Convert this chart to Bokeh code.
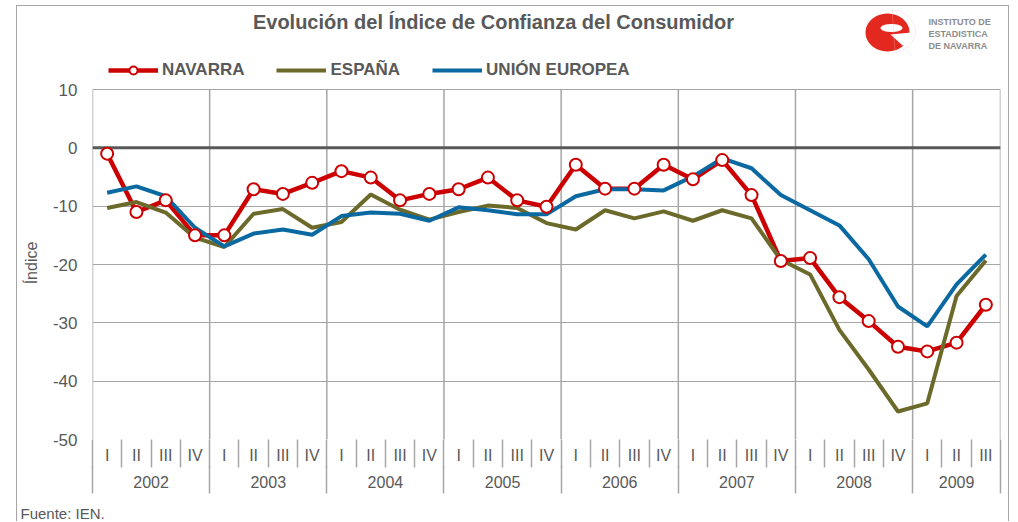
import math
from bokeh.plotting import figure
from bokeh.models import (Range1d, LinearAxis, FixedTicker, Span, Label, Legend, LegendItem,
                          CustomJSTickFormatter, ColumnDataSource, Title, PolyAnnotation)
from bokeh.embed import file_html
from bokeh.resources import INLINE

# ---------------- data ----------------
years = ["2002", "2003", "2004", "2005", "2006", "2007", "2008", "2009"]
quarter_names = ["I", "II", "III", "IV"]
quarters = [q for y in years for q in quarter_names][:31]   # 2002 I .. 2009 III

navarra = [-1.0, -11.0, -9.0, -15.0, -15.0, -7.1, -7.9, -6.0, -4.0, -5.1, -9.0, -7.9,
           -7.1, -5.1, -9.0, -10.1, -2.9, -7.0, -7.0, -2.9, -5.4, -2.1, -8.1, -19.4,
           -18.9, -25.6, -29.7, -34.1, -34.9, -33.4, -26.9]
espana = [-10.3, -9.3, -11.1, -15.4, -17.0, -11.3, -10.5, -13.7, -12.7, -8.0, -10.6, -12.3,
          -11.0, -9.9, -10.3, -12.9, -14.0, -10.7, -12.1, -10.9, -12.5, -10.7, -12.1, -19.2,
          -21.7, -31.2, -38.0, -45.2, -43.8, -25.4, -19.3]
ue = [-7.7, -6.6, -8.3, -13.7, -16.9, -14.7, -14.0, -14.9, -11.7, -11.1, -11.3, -12.5,
      -10.2, -10.7, -11.4, -11.4, -8.3, -7.1, -7.1, -7.3, -4.9, -1.8, -3.5, -8.1,
      -10.7, -13.3, -19.1, -27.2, -30.6, -23.4, -18.3]
y_ticks = [-50, -40, -30, -20, -10, 0, 10]

n = len(quarters)
x = [i + 0.5 for i in range(n)]
src = ColumnDataSource(dict(x=x, navarra=navarra, espana=espana, ue=ue))

FONT = "Liberation Sans"
TXT = "#595959"
GRID = "#a6a6a6"
RED = "#cc0000"
OLIVE = "#6b6a2b"
BLUE = "#0b69a1"
LOGO_RED = "#e3281f"

# layout geometry (pixels)
CANVAS_TOP = 6          # page y of canvas top (margin 5 + 1px border)
PLOT_LEFT = 92          # page x of the plot area's left edge
PLOT_TOP = 89           # page y of the value-10 line
PLOT_BOTTOM = 439       # page y of the value -50 line
H = 516
y_lo, y_hi = y_ticks[0], y_ticks[-1]
frame_top_value = y_lo + (y_hi - y_lo) * (PLOT_BOTTOM - CANVAS_TOP) / (PLOT_BOTTOM - PLOT_TOP)

p = figure(width=993, height=H, x_range=Range1d(0, n), y_range=Range1d(y_lo, frame_top_value),
           output_backend="svg", toolbar_location=None, x_axis_type=None,
           min_border_left=75, min_border_right=10, min_border_top=0,
           min_border_bottom=H - (PLOT_BOTTOM - CANVAS_TOP))
p.margin = (5, 0, 0, 16)
p.styles = {"border-top": "1px solid #a6a6a6", "border-left": "1px solid #a6a6a6",
            "border-right": "1px solid #a6a6a6"}
p.outline_line_color = None
p.background_fill_color = "white"
p.border_fill_color = "white"

# y axis
ya = p.yaxis[0]
ya.ticker = FixedTicker(ticks=y_ticks)
ya.formatter = CustomJSTickFormatter(code="return tick.toFixed(0)")
ya.axis_line_color = None
ya.major_tick_line_color = None
ya.minor_tick_line_color = None
ya.major_tick_out = 0
ya.minor_tick_out = 0
ya.major_label_text_font = FONT
ya.major_label_text_font_size = "17px"
ya.major_label_text_color = TXT
ya.major_label_standoff = 15
# non-breaking spaces keep the rotated label centred on the value area, not the whole frame
ya.axis_label = "Índice" + "\u00a0" * 18
ya.axis_label_text_font = FONT
ya.axis_label_text_font_size = "16px"
ya.axis_label_text_font_style = "normal"
ya.axis_label_text_color = TXT
ya.axis_label_standoff = 10

p.ygrid.ticker = FixedTicker(ticks=y_ticks)
p.ygrid.grid_line_color = GRID
p.ygrid.grid_line_width = 1.2

# vertical year separators limited to the value area
year_bounds = [4 * i for i in range(len(years))] + [n]
p.segment(x0=year_bounds, x1=year_bounds, y0=[y_lo] * len(year_bounds), y1=[y_hi] * len(year_bounds),
          line_color=GRID, line_width=1.5, level="underlay")

p.add_layout(Span(location=0, dimension="width", line_color="#595959", line_width=3,
                  level="underlay"))

# quarter axis
qa = LinearAxis(ticker=FixedTicker(ticks=x, minor_ticks=list(range(n + 1))),
                formatter=CustomJSTickFormatter(args=dict(labels=quarters),
                                                code="return labels[Math.floor(tick)] || ''"))
qa.axis_line_color = None
qa.major_tick_line_color = None
qa.major_tick_out = 0
qa.major_tick_in = 0
qa.minor_tick_in = 0
qa.minor_tick_out = 28
qa.minor_tick_line_color = GRID
qa.minor_tick_line_width = 1.5
qa.major_label_standoff = -21
qa.major_label_text_font = FONT
qa.major_label_text_font_size = "16px"
qa.major_label_text_color = TXT
p.add_layout(qa, "below")

# year axis
year_centers = [(4 * i + min(4 * i + 4, n)) / 2 for i in range(len(years))]
yra = LinearAxis(ticker=FixedTicker(ticks=year_centers, minor_ticks=year_bounds),
                 formatter=CustomJSTickFormatter(args=dict(labels=years),
                                                 code="return labels[Math.floor(tick/4)] || ''"))
yra.axis_line_color = None
yra.major_tick_line_color = None
yra.major_tick_out = 0
yra.major_tick_in = 0
yra.minor_tick_in = 0
yra.minor_tick_out = 27
yra.minor_tick_line_color = GRID
yra.minor_tick_line_width = 1.5
yra.major_label_standoff = -18
yra.major_label_text_font = FONT
yra.major_label_text_font_size = "16px"
yra.major_label_text_color = TXT
yra.axis_label = "\u00a0"          # blank spacer row below the years
yra.axis_label_text_font_size = "8px"
yra.axis_label_standoff = 0
p.add_layout(yra, "below")

p.add_layout(Title(text="Fuente: IEN.", align="left", offset=-(PLOT_LEFT - 20), standoff=0,
                   text_font=FONT, text_font_size="15px", text_font_style="normal",
                   text_color=TXT), "below")

# series
l_nav = p.line("x", "navarra", source=src, line_color=RED, line_width=4.5)
l_esp = p.line("x", "espana", source=src, line_color=OLIVE, line_width=4)
l_ue = p.line("x", "ue", source=src, line_color=BLUE, line_width=4)
m_nav = p.scatter("x", "navarra", source=src, size=12, marker="circle",
                  fill_color="white", line_color=RED, line_width=2)

legend = Legend(items=[LegendItem(label="NAVARRA", renderers=[l_nav, m_nav]),
                       LegendItem(label="ESPAÑA", renderers=[l_esp]),
                       LegendItem(label="UNIÓN EUROPEA", renderers=[l_ue])],
                location=(16, PLOT_BOTTOM - 80), orientation="horizontal",
                padding=0, margin=0, border_line_color=None, background_fill_alpha=0,
                glyph_width=50, glyph_height=20, label_height=20, label_standoff=4, spacing=32,
                label_text_font=FONT, label_text_font_size="17px", label_text_font_style="bold",
                label_text_color=TXT)
p.add_layout(legend, "center")

# title (screen units relative to plot frame, y up from its bottom)
p.add_layout(Label(x=401, y=PLOT_BOTTOM - 21, x_units="screen", y_units="screen",
                   text="Evolución del Índice de Confianza del Consumidor",
                   text_font=FONT, text_font_size="20px", text_font_style="bold",
                   text_color=TXT, text_align="center", text_baseline="middle"))

# logo: stylised red "e" drawn as shapes, plus institute name
def to_frame(px, py):
    return px - PLOT_LEFT, PLOT_BOTTOM - py

def ellipse_poly(cx, cy, rx, ry, a0=0.0, a1=2 * math.pi, k=48):
    pts = [to_frame(cx + rx * math.cos(a0 + (a1 - a0) * i / k),
                    cy + ry * math.sin(a0 + (a1 - a0) * i / k)) for i in range(k + 1)]
    return [pt[0] for pt in pts], [pt[1] for pt in pts]

def poly(points):
    pts = [to_frame(a, b) for a, b in points]
    return [pt[0] for pt in pts], [pt[1] for pt in pts]

for (xs_, ys_), col in [(ellipse_poly(887, 32, 22, 19), LOGO_RED),
                        (ellipse_poly(891, 27.5, 11, 4), "white"),
                        (poly([(890, 34), (911, 32), (911, 45), (902, 45)]), "white")]:
    p.add_layout(PolyAnnotation(xs=xs_, ys=ys_, xs_units="screen", ys_units="screen",
                                fill_color=col, fill_alpha=1, line_color=None))
axs, ays = ellipse_poly(887, 31, 28, 22, -1.4, 1.3, 24)
p.add_layout(PolyAnnotation(xs=axs, ys=ays, xs_units="screen", ys_units="screen",
                            fill_alpha=0, line_color="#f2b8b5", line_width=1))

for i, t in enumerate(["INSTITUTO DE", "ESTADISTICA", "DE NAVARRA"]):
    p.add_layout(Label(x=836, y=PLOT_BOTTOM - 21 - 12 * i, x_units="screen", y_units="screen",
                       text=t, text_font=FONT, text_font_size="9px", text_font_style="bold",
                       text_color="#8c8c8c", text_align="left", text_baseline="middle"))

open("out.html", "w").write(file_html(p, INLINE))
